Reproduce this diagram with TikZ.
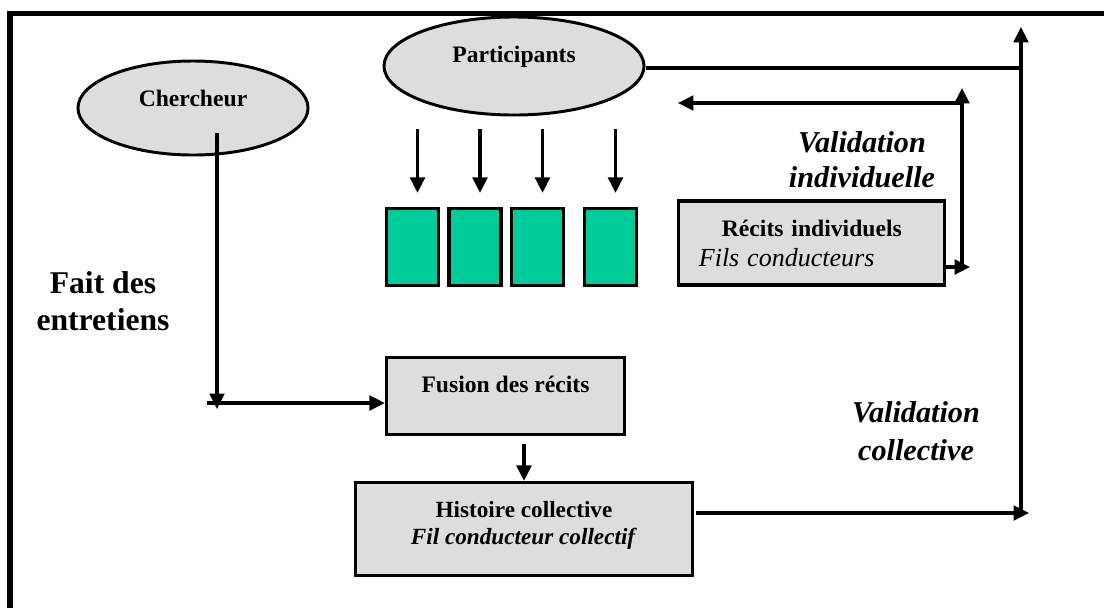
\documentclass[tikz,border=0pt]{standalone}
\usepackage{fontspec}
\setmainfont{Liberation Serif}
\usetikzlibrary{calc}
\usetikzlibrary{arrows.meta}
\usetikzlibrary{shapes.geometric}
\definecolor{fondgris}{RGB}{221,221,221}
\definecolor{vertrecit}{RGB}{0,204,153}

\begin{document}
\begin{tikzpicture}[x=0.025cm,y=-0.025cm,
	bulle/.style={ellipse,draw,line width=2.1pt,fill=fondgris,inner sep=0pt,font=\bfseries\fontsize{16.8}{20}\selectfont},
	boite/.style={rectangle,draw,line width=2.3pt,fill=fondgris,inner sep=0pt},
	recit/.style={rectangle,draw,line width=2.3pt,fill=vertrecit,minimum width=1.3cm,minimum height=1.925cm,inner sep=0pt},
	fleche/.style={line width=2.2pt,-{Triangle[length=11pt,width=10.5pt]}},
	trait/.style={line width=2.4pt},
	titre/.style={align=center,font=\bfseries\itshape\fontsize{21.5}{25}\selectfont}]

\useasboundingbox (0,0) rectangle (1104,608);
\draw[line width=3.6pt] (10,608) -- (10,13.5) -- (1104,13.5);

\node[bulle,minimum width=5.75cm,minimum height=2.35cm,text depth=14pt] (cher) at (193,108) {Chercheur};
\node[bulle,minimum width=6.5cm,minimum height=2.45cm,text depth=17pt] (part) at (514,66) {Participants};

\foreach \i/\x in {1/412.5,2/475,3/537.5,4/610.5}{
	\node[recit] (r\i) at (\x,247) {};
	\draw[fleche] ($(r\i.north)+(5,-78)$) -- ($(r\i.north)+(5,-14)$);
}

\node[boite,minimum width=6.65cm,minimum height=2.1cm,text width=5.63cm,inner xsep=0.51cm,align=left,font=\fontsize{16.8}{21.3}\selectfont] (indiv) at (811.5,243)
	{\hspace*{16.4pt}\textbf{Récits individuels}\\{\fontsize{18.5}{21.3}\selectfont\itshape Fils conducteurs}};
\node[boite,minimum width=5.95cm,minimum height=1.925cm,text depth=17pt,font=\bfseries\fontsize{16.8}{20}\selectfont] (fusion) at (505.5,396) {Fusion des récits};
\node[boite,minimum width=8.425cm,minimum height=2.325cm,align=center,text depth=9pt,font=\bfseries\fontsize{16.5}{19.2}\selectfont] (histoire) at (524,529)
	{Histoire collective\\\textit{Fil conducteur collectif}};

\node[align=center,font=\bfseries\fontsize{22.5}{26.3}\selectfont] (entretiens) at (103,301.5) {Fait des\\entretiens};
\node[titre] (valind) at (862,160) {Validation\\individuelle};
\node[titre,font=\bfseries\itshape\fontsize{21.5}{27}\selectfont] (valcol) at (916,431) {Validation\\collective};

\coordinate (jonction) at ($(cher.center)+(24,295)$);
\draw[fleche] ($(cher.center)+(24,25)$) -- ($(jonction)+(0,6)$);
\draw[fleche] ($(jonction)+(-10,0)$) -- (jonction -| fusion.west);
\draw[fleche] ($(fusion.south -| histoire.north)+(0,8)$) -- (histoire.north);

\coordinate (vihaut) at (962,88);
\coordinate (vicoin) at (962,103);
\coordinate (vifin) at (678,103);
\coordinate (vibas) at (962,267);
\draw[fleche] ($(indiv.east)+(0,24)$) -- ($(vibas)+(8,0)$);
\draw[fleche] (vibas) -- (vihaut);
\draw[fleche] (vicoin) -- (vifin);

\coordinate (vchaut) at (1021,27);
\coordinate (vcbas) at (1021,513);
\draw[trait] ($(part.east)+(0,2)$) -- ($(part.east -| vchaut)+(0,2)$);
\draw[fleche] (vcbas) -- (vchaut);
\draw[fleche] ($(histoire.east)+(1.5,-16)$) -- ($(vcbas)+(8,0)$);

\end{tikzpicture}
\end{document}
